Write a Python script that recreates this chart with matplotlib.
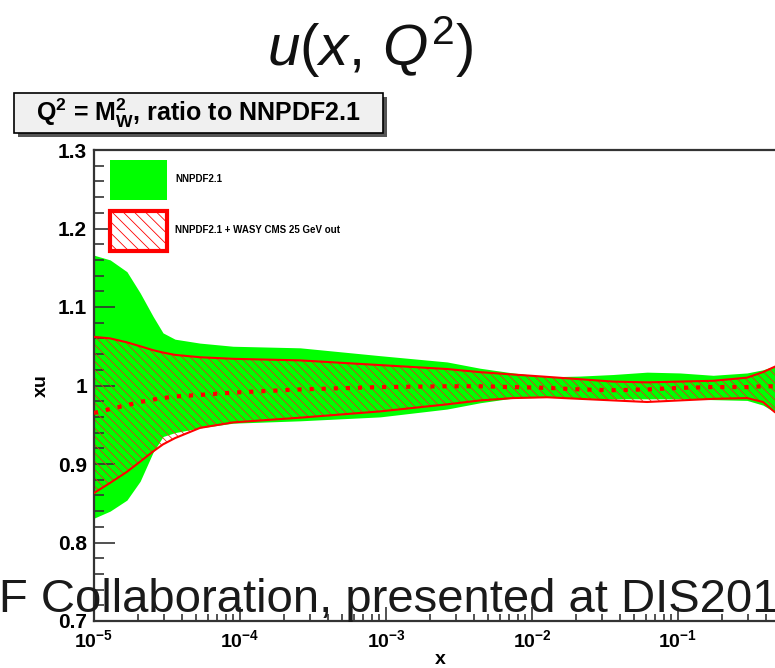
import numpy as np
import matplotlib
matplotlib.use("Agg")
import matplotlib.pyplot as plt
from matplotlib.patches import Patch, Rectangle
from matplotlib.ticker import FixedLocator, LogLocator, NullFormatter, MultipleLocator

plt.rcParams['font.family'] = ['Liberation Sans', 'DejaVu Sans']
plt.rcParams['mathtext.fontset'] = 'custom'
plt.rcParams['mathtext.rm'] = 'Liberation Sans'
plt.rcParams['mathtext.it'] = 'Liberation Sans:italic'
plt.rcParams['mathtext.bf'] = 'Liberation Sans:bold'
plt.rcParams['hatch.linewidth'] = 0.6

# ---- data ----
x = [1.0e-5, 1.29e-5, 1.68e-5, 2.07e-5, 2.54e-5, 2.97e-5, 3.59e-5, 5.32e-5,
     8.96e-5, 2.58e-4, 9.1e-4, 2.62e-3, 4.41e-3, 7.41e-3, 1.27e-2, 2.13e-2,
     3.59e-2, 6.14e-2, 0.103, 0.174, 0.297, 0.382, 0.461, 0.685, 1.0]

nnpdf_up = [1.166, 1.160, 1.145, 1.118, 1.088, 1.067, 1.059, 1.054,
            1.050, 1.048, 1.038, 1.030, 1.022, 1.016, 1.011, 1.012,
            1.014, 1.017, 1.016, 1.013, 1.016, 1.020, 1.025, 1.040, 1.060]
nnpdf_lo = [0.831, 0.840, 0.854, 0.878, 0.915, 0.935, 0.940, 0.946,
            0.952, 0.955, 0.960, 0.970, 0.978, 0.984, 0.985, 0.984,
            0.983, 0.983, 0.983, 0.982, 0.981, 0.975, 0.966, 0.950, 0.930]

wasy_up = [1.062, 1.060, 1.055, 1.050, 1.045, 1.042, 1.039, 1.036,
           1.034, 1.032, 1.026, 1.021, 1.017, 1.014, 1.011, 1.008,
           1.005, 1.004, 1.005, 1.006, 1.010, 1.017, 1.024, 1.035, 1.045]
wasy_lo = [0.863, 0.876, 0.890, 0.903, 0.916, 0.925, 0.933, 0.946,
           0.953, 0.959, 0.967, 0.976, 0.981, 0.984, 0.985, 0.983,
           0.981, 0.979, 0.981, 0.983, 0.984, 0.979, 0.966, 0.955, 0.945]
wasy_cv = [0.965, 0.970, 0.975, 0.979, 0.982, 0.984, 0.986, 0.988,
           0.991, 0.995, 0.998, 0.999, 0.999, 0.998, 0.997, 0.995,
           0.994, 0.995, 0.997, 0.998, 0.998, 0.999, 0.999, 1.000, 1.000]

labels = ['NNPDF2.1', 'NNPDF2.1 + WASY CMS 25 GeV out']
xticks = [1e-5, 1e-4, 1e-3, 1e-2, 1e-1]
xticklabels = [r'$\mathbf{10^{-5}}$', r'$\mathbf{10^{-4}}$', r'$\mathbf{10^{-3}}$',
               r'$\mathbf{10^{-2}}$', r'$\mathbf{10^{-1}}$']

GREEN = '#00ff00'
RED = '#ff0000'
DARK = '#333333'

fig = plt.figure(figsize=(7.75, 6.68), dpi=100)
# axes runs past the right edge like in the reference
ax = fig.add_axes([94 / 775, 47 / 668, 730 / 775, 471 / 668])

ax.fill_between(x, nnpdf_lo, nnpdf_up, color=GREEN, linewidth=0, zorder=1)
ax.fill_between(x, wasy_lo, wasy_up, facecolor='none', edgecolor='#d8381e',
                hatch='\\\\\\\\', linewidth=0, zorder=2)
ax.plot(x, wasy_up, color=RED, lw=1.5, zorder=3)
ax.plot(x, wasy_lo, color=RED, lw=1.5, zorder=3)
ax.plot(x, wasy_cv, color=RED, lw=3, ls=(0, (1, 1.9)), zorder=3)

ax.set_xscale('log')
ax.set_xlim(1e-5, 1)
ax.set_ylim(0.7, 1.3)

ax.xaxis.set_major_locator(FixedLocator(xticks))
ax.set_xticklabels(xticklabels)
ax.xaxis.set_minor_locator(LogLocator(base=10, subs=np.arange(2, 10)))
ax.xaxis.set_minor_formatter(NullFormatter())
ax.yaxis.set_minor_locator(MultipleLocator(0.02))
ax.set_yticks([0.7, 0.8, 0.9, 1.0, 1.1, 1.2, 1.3])
ax.set_yticklabels(['0.7', '0.8', '0.9', '1', '1.1', '1.2', '1.3'])

ax.tick_params(axis='both', which='both', direction='in', colors=DARK,
               top=False, right=False)
ax.tick_params(axis='y', which='major', length=15, width=1.2, pad=5,
               labelsize=15, labelcolor='black')
ax.tick_params(axis='y', which='minor', length=7, width=1.2)
ax.tick_params(axis='x', which='major', length=10, width=1.2, pad=6,
               labelsize=14, labelcolor='black')
ax.tick_params(axis='x', which='minor', length=5, width=1.2)
for lab in ax.get_yticklabels():
    lab.set_fontweight('bold')

for s in ax.spines.values():
    s.set_color(DARK)
    s.set_linewidth(1.6)

ax.set_ylabel('xu', fontsize=14, fontweight='bold')
ax.yaxis.set_label_coords(-0.06, 0.5)
ax.set_xlabel('x', fontsize=14, fontweight='bold')
ax.xaxis.set_label_coords(0.474, -0.064)

handles = [Patch(facecolor=GREEN, edgecolor='none'),
           Patch(facecolor='white', edgecolor=RED, hatch='\\\\\\', linewidth=3)]
leg = ax.legend(handles, labels, loc='upper left',
                bbox_to_anchor=(16 / 730, (471 - 10) / 471),
                frameon=False, prop={'weight': 'bold', 'size': 7},
                handlelength=5.86, handleheight=5.95, labelspacing=1.13,
                handletextpad=0.82, borderpad=0, borderaxespad=0)

# title box with shadow (figure pixel coords converted to fractions)
fig.patches.append(Rectangle((18 / 775, (668 - 137) / 668), 369 / 775, 40 / 668,
                             transform=fig.transFigure, facecolor='#555555',
                             edgecolor='none', zorder=1))
fig.patches.append(Rectangle((14 / 775, (668 - 133) / 668), 369 / 775, 40 / 668,
                             transform=fig.transFigure, facecolor='#f0f0f0',
                             edgecolor='black', linewidth=1.2, zorder=2))
fig.text(198 / 775, (668 - 113) / 668,
         r'$\mathbf{Q^2}$ = $\mathbf{M_W^2}$, ratio to NNPDF2.1',
         ha='center', va='center', fontsize=18, fontweight='bold', zorder=3)

fig.text(370 / 775, (668 - 47) / 668, r'$u(x,\, Q^2)$', ha='center', va='center',
         fontsize=42, color='#111111')

# big overlay caption, cut off on both sides like the slide
overlay = 'NNPDF Collaboration, presented at DIS2012'
tmp = fig.text(0, 0, 'NNPD', fontsize=34)
fig.canvas.draw()
prefix_w = tmp.get_window_extent().width
tmp.remove()
fig.text(-(prefix_w + 1) / 775, (668 - 612) / 668, overlay, ha='left',
         va='baseline', fontsize=34, color='#1a1a1a', zorder=5)

fig.savefig('out.png', dpi=100)
